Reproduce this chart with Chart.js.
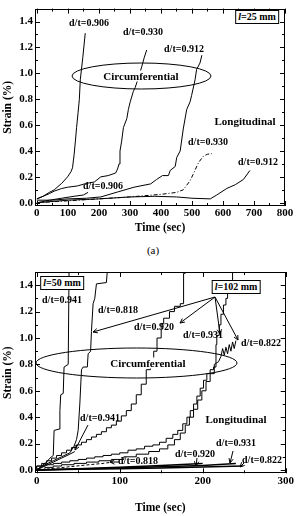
<!DOCTYPE html>
<html><head><meta charset="utf-8">
<script src="https://cdn.jsdelivr.net/npm/chart.js@4.4.1/dist/chart.umd.min.js"></script>
<style>
body{margin:0;background:#fff;}
#wrap{position:relative;width:297px;height:516px;overflow:hidden;font-family:'Liberation Serif','Times New Roman',serif;}
canvas{position:absolute;left:0;}
.t{position:absolute;transform:translate(-50%,-50%);white-space:nowrap;font-weight:bold;font-size:10px;line-height:1;color:#000;}
.big{font-size:11px;}
.box{border:1px solid #000;padding:1px 2px;background:#fff;}
.bg{background:#fff;padding:0 1px;}
.cap{font-weight:normal;font-size:11px;}
</style></head><body><div id="wrap">
<canvas id="c1" width="297" height="240" style="top:0"></canvas>
<canvas id="c2" width="297" height="258" style="top:258px"></canvas>

<div class="t" style="left:89px;top:23px">d/t=0.906</div>
<div class="t" style="left:143px;top:32px">d/t=0.930</div>
<div class="t" style="left:184px;top:49px">d/t=0.912</div>
<div class="t big bg" style="left:141px;top:76px">Circumferential</div>
<div class="t big" style="left:245px;top:121px">Longitudinal</div>
<div class="t" style="left:208px;top:142px">d/t=0.930</div>
<div class="t" style="left:258px;top:162px">d/t=0.912</div>
<div class="t" style="left:103px;top:186px">d/t=0.906</div>
<div class="t box" style="left:257px;top:16.5px"><i>l</i>=25 mm</div>
<div class="t cap" style="left:153px;top:250px">(a)</div>

<div class="t box" style="left:62px;top:283px"><i>l</i>=50 mm</div>
<div class="t" style="left:62px;top:300px">d/t=0.941</div>
<div class="t box" style="left:236px;top:287px"><i>l</i>=102 mm</div>
<div class="t" style="left:118px;top:310px">d/t=0.818</div>
<div class="t" style="left:154px;top:327px">d/t=0.920</div>
<div class="t" style="left:203px;top:335px">d/t=0.931</div>
<div class="t" style="left:261px;top:343px">d/t=0.822</div>
<div class="t big bg" style="left:148px;top:363px">Circumferential</div>
<div class="t big" style="left:236px;top:419px">Longitudinal</div>
<div class="t" style="left:100px;top:418px">d/t=0.941</div>
<div class="t" style="left:138px;top:461px">d/t=0.818</div>
<div class="t" style="left:195px;top:454px">d/t=0.920</div>
<div class="t" style="left:236px;top:443px">d/t=0.931</div>
<div class="t" style="left:262px;top:460px">d/t=0.822</div>
<div class="t cap" style="left:153px;top:520px">(b)</div>
</div>
<script>
// ---------- tick labels ----------
const yTicks = [0.0, 0.2, 0.4, 0.6, 0.8, 1.0, 1.2, 1.4];
const yMinor = [0.1, 0.3, 0.5, 0.7, 0.9, 1.1, 1.3, 1.5];
const xTicksA = [0, 100, 200, 300, 400, 500, 600, 700, 800];
const xMinorA = [50, 150, 250, 350, 450, 550, 650, 750];
const xTicksB = [0, 100, 200, 300];
const xMinorB = [50, 150, 250];

// ---------- (a) l = 25 mm ----------
const aC906_t = [0, 20, 40, 56, 80, 99, 110, 115, 120, 124, 128, 133, 137, 140, 148, 156];
const aC906_s = [0.03, 0.05, 0.08, 0.10, 0.15, 0.20, 0.24, 0.27, 0.37, 0.47, 0.58, 0.70, 0.80, 0.95, 1.12, 1.31];
const aC930_t = [0, 20, 40, 56, 80, 99, 131, 160, 185, 206, 230, 254, 260, 265, 268, 273, 279, 290, 295, 301, 311, 317, 328, 338, 346, 354];
const aC930_s = [0.03, 0.05, 0.07, 0.09, 0.11, 0.12, 0.13, 0.15, 0.16, 0.20, 0.21, 0.23, 0.26, 0.30, 0.40, 0.47, 0.58, 0.65, 0.72, 0.78, 0.86, 0.89, 0.97, 1.05, 1.12, 1.18];
const aC912_t = [0, 50, 100, 160, 206, 260, 313, 367, 386, 405, 424, 430, 446, 451, 462, 472, 483, 494, 499, 510, 515, 526, 532];
const aC912_s = [0.02, 0.02, 0.03, 0.035, 0.045, 0.083, 0.12, 0.146, 0.18, 0.21, 0.21, 0.25, 0.28, 0.35, 0.40, 0.57, 0.72, 0.78, 0.83, 0.95, 1.03, 1.08, 1.14];
const aL906_t = [0, 40, 80, 120, 150, 165];
const aL906_s = [0.0, 0.02, 0.035, 0.05, 0.06, 0.08];
const aL930_t = [0, 100, 200, 300, 400, 450, 472, 494, 504, 521, 537, 550, 564];
const aL930_s = [0.0, 0.015, 0.03, 0.045, 0.065, 0.08, 0.10, 0.17, 0.22, 0.31, 0.36, 0.375, 0.38];
const aL912_t = [0, 100, 200, 300, 380, 450, 500, 559, 580, 612, 640, 666, 687];
const aL912_s = [0.0, 0.02, 0.03, 0.045, 0.05, 0.045, 0.035, 0.03, 0.06, 0.11, 0.14, 0.18, 0.25];

// ---------- (b) l = 50 mm and l = 102 mm ----------
const bC941_t = [0, 6, 12, 16, 20, 21, 27, 28, 29, 32, 33, 38, 39];
const bC941_s = [0, 0.03, 0.06, 0.09, 0.11, 0.30, 0.31, 0.45, 0.57, 0.58, 0.78, 0.80, 1.5];
const bC818_t = [0, 10, 20, 30, 40, 45, 48, 50, 52, 54, 56, 61, 62, 65, 66, 68, 70, 72, 84, 85];
const bC818_s = [0, 0.04, 0.07, 0.10, 0.13, 0.18, 0.23, 0.30, 0.50, 0.76, 0.78, 0.78, 0.88, 0.90, 1.05, 1.26, 1.30, 1.41, 1.42, 1.5];
const bC920_t = [0, 6, 12, 18, 24, 30, 36, 42, 48, 54, 60, 66, 72, 78, 84, 90, 96, 102, 108, 114, 120, 126, 132, 137, 141, 145, 150, 153, 160, 166, 173, 177, 179, 184];
const bC920_s = [0, 0.03, 0.05, 0.07, 0.09, 0.11, 0.13, 0.15, 0.17, 0.19, 0.21, 0.23, 0.25, 0.27, 0.29, 0.32, 0.34, 0.37, 0.41, 0.45, 0.50, 0.57, 0.65, 0.76, 0.83, 0.90, 1.00, 1.11, 1.15, 1.20, 1.24, 1.26, 1.49, 1.5];
const bC931_t = [0, 10, 20, 30, 40, 50, 60, 70, 80, 90, 100, 110, 120, 130, 140, 148, 156, 164, 170, 176, 181, 185, 189, 193, 197, 201, 205, 209, 213, 216, 217, 220, 222, 225, 228, 230, 233, 236, 238];
const bC931_s = [0.01, 0.03, 0.04, 0.05, 0.06, 0.07, 0.08, 0.09, 0.10, 0.11, 0.12, 0.13, 0.15, 0.16, 0.18, 0.19, 0.21, 0.24, 0.27, 0.30, 0.35, 0.40, 0.45, 0.50, 0.56, 0.62, 0.68, 0.73, 0.76, 0.78, 0.95, 1.02, 1.10, 1.18, 1.25, 1.30, 1.35, 1.42, 1.5];
const bC822_t = [0, 10, 10, 20, 20, 30, 30, 45, 45, 60, 60, 75, 75, 90, 90, 105, 105, 120, 120, 135, 135, 148, 148, 158, 158, 166, 166, 173, 173, 179, 179, 184, 184, 189, 189, 194, 194, 199, 199, 204, 204, 209, 209, 214, 214, 219, 222, 224, 226, 228, 230, 232, 234, 236, 238, 240];
const bC822_s = [0, 0, 0.02, 0.02, 0.03, 0.03, 0.04, 0.04, 0.05, 0.05, 0.06, 0.06, 0.07, 0.07, 0.08, 0.08, 0.10, 0.10, 0.12, 0.12, 0.14, 0.14, 0.16, 0.16, 0.19, 0.19, 0.23, 0.23, 0.28, 0.28, 0.34, 0.34, 0.40, 0.40, 0.46, 0.46, 0.53, 0.53, 0.60, 0.60, 0.67, 0.67, 0.73, 0.73, 0.80, 0.82, 0.86, 0.92, 0.87, 0.93, 0.88, 0.95, 0.90, 0.97, 0.92, 0.98];
const bL941_t = [0, 10, 20, 30, 40, 46];
const bL941_s = [0, 0.03, 0.06, 0.09, 0.12, 0.14];
const bL818_t = [0, 20, 40, 60, 80, 92];
const bL818_s = [0, 0.012, 0.025, 0.038, 0.05, 0.06];
const bL920_t = [0, 50, 100, 150, 200];
const bL920_s = [0, 0.01, 0.02, 0.035, 0.05];
const bL931_t = [0, 50, 100, 150, 200, 240];
const bL931_s = [0, 0.008, 0.016, 0.025, 0.035, 0.05];
const bL822_t = [0, 50, 100, 150, 200, 248];
const bL822_s = [0, 0.005, 0.01, 0.015, 0.022, 0.03];

function series(t, s, extra) {
  return Object.assign({
    data: t.map((v, i) => ({x: v, y: s[i]})),
    borderColor: '#000', borderWidth: 1, pointRadius: 0, showLine: true, fill: false, tension: 0
  }, extra || {});
}

const FONT = "'Liberation Serif', 'Times New Roman', serif";

function framePlugin(o) {
  return {
    id: 'frame',
    afterDatasetsDraw(chart) {
      const {ctx, chartArea: a, scales: {x, y}} = chart;
      ctx.save();
      ctx.strokeStyle = '#000';
      ctx.lineWidth = 1;
      ctx.strokeRect(Math.round(a.left) + 0.5, Math.round(a.top) + 0.5, Math.round(a.right - a.left) - 1, Math.round(a.bottom - a.top) - 1);
      ctx.beginPath();
      const tk = (vals, len) => {
        vals.forEach(v => {
          const px = Math.round(x.getPixelForValue(v)) + 0.5;
          ctx.moveTo(px, a.bottom); ctx.lineTo(px, a.bottom - len);
          ctx.moveTo(px, a.top); ctx.lineTo(px, a.top + len);
        });
      };
      const tky = (vals, len) => {
        vals.forEach(v => {
          const py = Math.round(y.getPixelForValue(v)) + 0.5;
          ctx.moveTo(a.left, py); ctx.lineTo(a.left + len, py);
          ctx.moveTo(a.right, py); ctx.lineTo(a.right - len, py);
        });
      };
      tk(o.xMajor, 5); tk(o.xMinor, 3); tky(yTicks, 5); tky(yMinor, 3);
      ctx.stroke();
      // ellipses
      (o.ellipses || []).forEach(e => {
        ctx.beginPath();
        ctx.ellipse(e[0], e[1] - o.off, e[2], e[3], 0, 0, Math.PI * 2);
        ctx.stroke();
      });
      // arrows
      (o.arrows || []).forEach(r => {
        const x1 = r[0], y1 = r[1] - o.off, x2 = r[2], y2 = r[3] - o.off;
        const ang = Math.atan2(y2 - y1, x2 - x1);
        ctx.beginPath();
        ctx.moveTo(x1, y1); ctx.lineTo(x2, y2);
        ctx.moveTo(x2 - 5 * Math.cos(ang - 0.45), y2 - 5 * Math.sin(ang - 0.45));
        ctx.lineTo(x2, y2);
        ctx.lineTo(x2 - 5 * Math.cos(ang + 0.45), y2 - 5 * Math.sin(ang + 0.45));
        ctx.stroke();
      });
      ctx.restore();
    }
  };
}

function makeChart(id, o) {
  const tickFont = {family: FONT, weight: 'bold', size: 11};
  const titleFont = {family: FONT, weight: 'bold', size: 11.5};
  return new Chart(document.getElementById(id), {
    type: 'scatter',
    data: {datasets: o.datasets},
    options: {
      responsive: false, animation: false, devicePixelRatio: 1,
      layout: {padding: {top: o.padTop, right: o.padRight, bottom: 0, left: 0}},
      plugins: {legend: {display: false}, tooltip: {enabled: false}},
      scales: {
        x: {
          type: 'linear', min: o.xMin, max: o.xMax,
          afterBuildTicks: s => { s.ticks = o.xMajor.map(v => ({value: v})); },
          afterFit: s => { s.height = o.xHeight; },
          ticks: {font: tickFont, color: '#000', padding: 1, maxRotation: 0, autoSkip: false, callback: v => String(v)},
          grid: {display: false, drawTicks: false},
          border: {display: false},
          title: {display: true, text: 'Time (sec)', font: titleFont, color: '#000', padding: {top: 0, bottom: o.titlePad}}
        },
        y: {
          type: 'linear', min: -0.025, max: 1.5,
          afterBuildTicks: s => { s.ticks = yTicks.map(v => ({value: v})); },
          afterFit: s => { s.width = 35; },
          ticks: {font: tickFont, color: '#000', padding: 2, callback: v => v.toFixed(1)},
          grid: {display: false, drawTicks: false},
          border: {display: false},
          title: {display: true, text: 'Strain (%)', font: titleFont, color: '#000', padding: {top: 1, bottom: 0}}
        }
      }
    },
    plugins: [framePlugin(o)]
  });
}

makeChart('c1', {
  xMin: -6, xMax: 800, xMajor: xTicksA, xMinor: xMinorA,
  padTop: 4.5, padRight: 12, xHeight: 34, titlePad: 5, off: 0,
  ellipses: [[141.5, 76, 69.5, 13]],
  arrows: [],
  datasets: [
    series(aC906_t, aC906_s), series(aC930_t, aC930_s), series(aC912_t, aC912_s),
    series(aL906_t, aL906_s), series(aL930_t, aL930_s, {borderDash: [4, 2, 1, 2]}), series(aL912_t, aL912_s)
  ]
});

makeChart('c2', {
  xMin: -2, xMax: 300, xMajor: xTicksB, xMinor: xMinorB,
  padTop: 14, padRight: 11.3, xHeight: 258 - 215.3, titlePad: 1, off: 258,
  ellipses: [[136.5, 363, 100.5, 15]],
  arrows: [[215, 297, 93, 332], [215, 297, 180, 323], [215, 297, 220, 334], [215, 297, 238, 340],
           [88, 425, 75, 450], [119, 462, 110, 462], [197, 458, 196, 466], [233, 451, 230, 463], [244, 463, 240, 467]],
  datasets: [
    series(bC941_t, bC941_s), series(bC818_t, bC818_s),
    series(bC920_t, bC920_s, {stepped: 'after'}), series(bC931_t, bC931_s, {stepped: 'after'}),
    series(bC822_t, bC822_s),
    series(bL941_t, bL941_s), series(bL818_t, bL818_s, {borderDash: [3, 2]}),
    series(bL920_t, bL920_s, {borderWidth: 1.5}), series(bL931_t, bL931_s, {borderWidth: 1.5}), series(bL822_t, bL822_s, {borderWidth: 1.5})
  ]
});
</script>
</body></html>
